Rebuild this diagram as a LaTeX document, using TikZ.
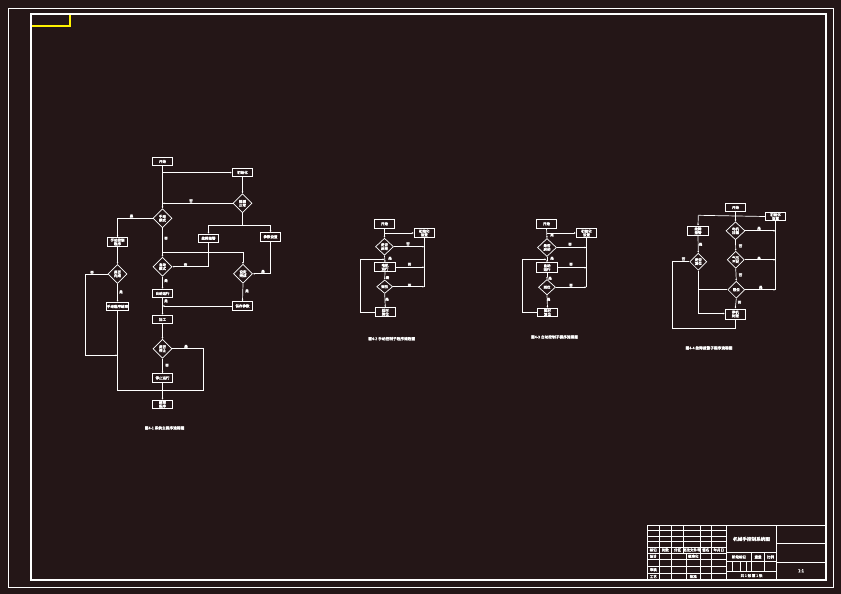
\documentclass[tikz,border=0pt]{standalone}
\usepackage{fontspec}
\newfontfamily\cjk[FakeBold=3]{Noto Sans CJK SC}
\usetikzlibrary{shapes.geometric,arrows.meta}
\definecolor{bg}{RGB}{36,22,23}
\begin{document}
\begin{tikzpicture}[x=1pt,y=-1pt,
  ln/.style={draw=white,line width=0.7pt},
  ar/.style={ln,-{Latex[length=1.8pt,width=1.8pt]}},
  box/.style={draw=white,line width=0.7pt,minimum width=20.5pt,minimum height=8.5pt,inner sep=0.3pt,text=white,font=\cjk\fontsize{3.5}{3.7}\selectfont,align=center},
  dia/.style={diamond,draw=white,line width=0.7pt,minimum width=19pt,minimum height=19pt,inner sep=0pt,text=white,font=\cjk\fontsize{3.5}{3.7}\selectfont,align=center},
  lab/.style={text=white,font=\cjk\fontsize{3.4}{3.6}\selectfont,inner sep=0pt},
  captxt/.style={text=white,font=\cjk\fontsize{3.7}{4}\selectfont,inner sep=0pt},
  tb/.style={text=white,font=\cjk\fontsize{3.5}{3.8}\selectfont,inner sep=0pt},
  tbl/.style={draw=white,line width=0.7pt}
]
\fill[bg] (0,0) rectangle (841,594);
\useasboundingbox (0,0) rectangle (841,594);
% frames
\draw[draw=white,line width=0.6pt] (8,8) rectangle (833,587);
\draw[draw=yellow,line width=1.2pt] (31,14) rectangle (70,26);
\draw[draw=white,line width=1.4pt] (31,14) rectangle (826,580);

% ===== main flowchart =====
\node[box] (m0) at (162.5,161.5) {开始};
\node[box] (m1) at (242.5,172.5) {初始化};
\node[dia] (m2) at (242.5,203.3) {检测\\正常};
\node[dia] (m3) at (162.5,218.3) {手动\\模式};
\node[box] (m4) at (117.5,242) {手动控制\\程序};
\node[dia] (m5) at (117.5,274) {是否\\完成};
\node[box] (m6) at (117.5,306.5) {手动程序结束};
\node[dia] (m7) at (162.5,266.7) {自动\\模式};
\node[box] (m8) at (208.5,238.3) {故障报警};
\node[box] (m9) at (270.5,236.8) {参数设置};
\node[dia] (m10) at (243,273.8) {设定\\完成};
\node[box] (m11) at (162.5,293.5) {自动运行};
\node[box] (m12) at (242.5,306) {保存参数};
\node[box] (m13) at (162.5,319.5) {加工};
\node[dia] (m14) at (162.5,348.8) {是否\\停止};
\node[box] (m15) at (162.5,378) {停止运行};
\node[box] (m16) at (162.5,404.3) {结束\\程序};
\coordinate (c1) at (162.5,172.5);
\coordinate (c2) at (242.5,225);
\coordinate (c3) at (162.5,252.3);
\coordinate (c4) at (85,355.3);
\coordinate (c5) at (203.3,390);
\draw[ar] (m0.south) -- (m3.north);
\draw[ar] (c1) -- (m1.west);
\draw[ar] (m1.south) -- (m2.north);
\draw[ar] (m2.west) -- (m0.south |- m2.west);
\draw[ln] (m2.south) -- (c2);
\draw[ar] (c2) -| (m8.north);
\draw[ar] (c2) -| (m9.north);
\draw[ar] (m8.south) |- (m7.east);
\draw[ar] (c3) -| (m10.north);
\draw[ar] (m9.south) |- (m10.east);
\draw[ar] (m10.south) -- (m12.north);
\draw[ar] (m12.west) -- (m12.west -| m0.south);
\draw[ar] (m3.west) -| (m4.north);
\draw[ar] (m3.south) -- (m7.north);
\draw[ar] (m4.south) -- (m5.north);
\draw[ar] (m5.south) -- (m6.north);
\draw[ar] (m5.west) -| (c4) -- (m4.south |- c4);
\draw[ar] (m7.south) -- (m11.north);
\draw[ar] (m11.south) -- (m13.north);
\draw[ar] (m13.south) -- (m14.north);
\draw[ar] (m14.south) -- (m15.north);
\draw[ar] (m15.south) -- (m16.north);
\draw[ln] (m14.east) -| (c5) -- (m6.south |- c5) -- (m6.south);
\node[lab] at (191,201) {否};
\node[lab] at (131.5,216.2) {是};
\node[lab] at (166,238.3) {否};
\node[lab] at (185.5,264.8) {否};
\node[lab] at (263,271.5) {是};
\node[lab] at (247,291) {是};
\node[lab] at (92,272.5) {否};
\node[lab] at (121,292) {是};
\node[lab] at (166,280.7) {是};
\node[lab] at (166,301) {是};
\node[lab] at (186,346.5) {是};
\node[lab] at (167,365.3) {否};
\node[captxt] (k1) at (164.5,428) {图4-1 系统主程序流程图};

% ===== chart 2 =====
\node[box] (a0) at (384.5,223.8) {开始};
\node[box,minimum height=9.5pt] (a1) at (424.3,233) {初始化\\设置};
\node[dia,minimum width=18pt,minimum height=17pt] (a2) at (384.5,246.7) {是否\\启动};
\node[box,minimum height=9pt] (a3) at (385,267.2) {电机\\运行};
\node[dia,minimum width=16pt,minimum height=13.5pt] (a4) at (384.7,286.7) {到位};
\node[box,minimum height=9pt] (a5) at (385.3,312.2) {延时\\复位};
\coordinate (a6) at (424.3,287.3);
\coordinate (a7) at (360.3,259.3);
\draw[ar] (a0.south) -- (a2.north);
\draw[ar] (a0.south |- a1.west) -- (a1.west);
\draw[ln] (a1.south) -- (a6);
\draw[ar] (a2.east) -- (a2.east -| a6);
\draw[ar] (a2.south) -- (a3.north);
\draw[ar] (a3.east) -- (a3.east -| a6);
\draw[ar] (a3.south) -- (a4.north);
\draw[ar] (a4.east) -- (a4.east -| a6);
\draw[ar] (a4.south) -- (a5.north);
\draw[ar] (a5.west) -| (a7) -- (a7 -| a0.south);
\node[lab] at (408,244) {否};
\node[lab] at (390,258.3) {是};
\node[lab] at (409.5,264.3) {否};
\node[lab] at (387.5,277.7) {是};
\node[lab] at (409.5,285.3) {否};
\node[lab] at (387,299.3) {是};
\node[captxt] (k2) at (391.7,338.7) {图4-2 手动控制子程序流程图};

% ===== chart 3 =====
\node[box] (b0) at (546.5,223.8) {开始};
\node[box,minimum height=9.5pt] (b1) at (586.5,233) {初始化\\设置};
\node[dia,minimum width=19pt,minimum height=18pt] (b2) at (547,247.5) {是否\\启动};
\node[box,minimum height=10pt] (b3) at (547,267.7) {自动\\运行};
\node[dia,minimum width=17pt,minimum height=15.5pt] (b4) at (547,287.2) {到位};
\node[box,minimum height=8.5pt] (b5) at (547.5,312.5) {延时\\复位};
\coordinate (b6) at (586.5,287.3);
\coordinate (b7) at (522.3,259.3);
\draw[ar] (b0.south) -- (b2.north);
\draw[ar] (b0.south |- b1.west) -- (b1.west);
\draw[ln] (b1.south) -- (b6);
\draw[ar] (b2.east) -- (b2.east -| b6);
\draw[ar] (b2.south) -- (b3.north);
\draw[ar] (b3.east) -- (b3.east -| b6);
\draw[ar] (b3.south) -- (b4.north);
\draw[ar] (b4.east) -- (b4.east -| b6);
\draw[ar] (b4.south) -- (b5.north);
\draw[ar] (b5.west) -| (b7) -- (b7 -| b0.south);
\node[lab] at (552,235) {是};
\node[lab] at (570,244.3) {否};
\node[lab] at (552,258.3) {是};
\node[lab] at (571,264.3) {否};
\node[lab] at (550,278.3) {是};
\node[lab] at (571,285.3) {否};
\node[lab] at (548.5,299.3) {是};
\node[captxt] (k3) at (554.5,337) {图4-3 自动控制子程序流程图};

% ===== chart 4 =====
\node[box] (q1) at (735.5,207.5) {开始};
\node[box] (q2) at (775.5,216.5) {初始化\\设置};
\node[box,minimum height=9.7pt] (qa) at (698,230.8) {故障\\报警};
\node[dia,minimum width=19pt,minimum height=18pt] (q3) at (735.5,230.8) {电机\\过载};
\node[dia,minimum width=17pt,minimum height=17pt] (q4) at (735.7,259.7) {气压\\不足};
\node[dia,minimum width=17pt,minimum height=17pt] (q5) at (736.3,289.7) {限位};
\node[dia,minimum width=17pt,minimum height=17pt] (q6) at (698.3,261.7) {是否\\复位};
\node[box,minimum height=10pt] (q7) at (735.3,314) {停机\\处理};
\coordinate (e1) at (698.3,215.3);
\coordinate (e2) at (775.5,290);
\coordinate (e3) at (698.3,313.5);
\coordinate (e4) at (672.3,328.3);
\draw[ar] (q1.south) -- (q3.north);
\draw[ln] (e1) -- (q2.west);
\draw[ar] (e1) -- (qa.north);
\draw[ln] (q2.south) -- (e2);
\draw[ar] (q3.east) -- (q3.east -| e2);
\draw[ar] (q4.east) -- (q4.east -| e2);
\draw[ar] (q5.east) -- (q5.east -| e2);
\draw[ar] (q3.south) -- (q4.north);
\draw[ar] (q4.south) -- (q5.north);
\draw[ar] (q5.south) -- (q7.north);
\draw[ln] (q5.west) -- (q5.west -| qa.south);
\draw[ar] (qa.south) -- (q6.north);
\draw[ar] (q6.south) -- (e3) -- (e3 -| q7.west);
\draw[ln] (q6.west) -| (e4) -| (q7.south);
\node[lab] at (759,228.3) {是};
\node[lab] at (740.5,246) {否};
\node[lab] at (759,258.3) {是};
\node[lab] at (740.5,275) {否};
\node[lab] at (760.7,287.3) {是};
\node[lab] at (739.5,302.3) {否};
\node[lab] at (700.5,244.3) {是};
\node[lab] at (683.5,259) {否};
\node[captxt] (k4) at (709,348) {图4-4 故障报警子程序流程图};

% ===== title block =====
\draw[tbl] (647.7,525) rectangle (826,580);
\draw[tbl] (726,525) -- (726,580);
\draw[tbl] (776.7,525) -- (776.7,580);
\foreach \yy in {530.5,536,541.5,547,553} {\draw[tbl] (647.7,\yy) -- (726,\yy);}
\foreach \xx in {659,671.7,683.3,700,711.7} {\draw[tbl] (\xx,525) -- (\xx,553);}
\foreach \yy in {559.7,566.4,573.1} {\draw[tbl] (647.7,\yy) -- (726,\yy);}
\foreach \xx in {659,671.7,686.7,700,711.7} {\draw[tbl] (\xx,553) -- (\xx,580);}
\node[tb] at (653.3,550) {标记};
\node[tb] at (665.3,550) {处数};
\node[tb] at (677.5,550) {分区};
\node[tb] at (691.7,550) {更改文件号};
\node[tb] at (705.8,550) {签名};
\node[tb] at (718.8,550) {年月日};
\node[tb] at (653.3,556.3) {设计};
\node[tb] at (693.3,556.3) {标准化};
\node[tb] at (653.3,569.7) {审核};
\node[tb] at (653.3,576.6) {工艺};
\node[tb] at (693.3,576.6) {批准};
\draw[tbl] (726,552.3) -- (776.7,552.3);
\draw[tbl] (726,561.7) -- (776.7,561.7);
\draw[tbl] (726,571) -- (776.7,571);
\draw[tbl] (751.7,552.3) -- (751.7,571);
\draw[tbl] (764.3,552.3) -- (764.3,571);
\foreach \xx in {732.3,740,746.7} {\draw[tbl] (\xx,561.7) -- (\xx,571);}
\node[tb,font=\cjk\fontsize{4.6}{5}\selectfont] at (751.5,539) {机械手控制系统图};
\node[tb] at (739,557) {阶段标记};
\node[tb] at (758,557) {重量};
\node[tb] at (770.5,557) {比例};
\node[tb] at (751.5,575.6) {共 1 张 第 1 张};
\draw[tbl] (776.7,543.3) -- (826,543.3);
\draw[tbl] (776.7,562.3) -- (826,562.3);
\node[tb,font=\cjk\fontsize{4.4}{5}\selectfont] at (801,570.7) {1:1};
\end{tikzpicture}
\end{document}
